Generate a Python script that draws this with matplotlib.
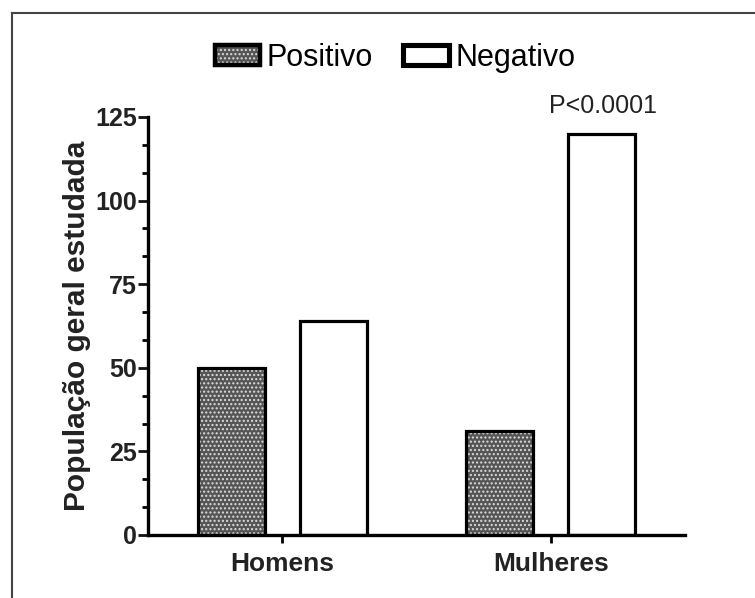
import matplotlib
matplotlib.use("Agg")
import matplotlib.pyplot as plt
import numpy as np
from matplotlib.patches import Patch
from matplotlib.lines import Line2D
from matplotlib.legend_handler import HandlerTuple
from matplotlib.ticker import MultipleLocator

categories = ["Homens", "Mulheres"]
series_names = ["Positivo", "Negativo"]
positivo = [50, 31]
negativo = [64, 120]
yticks = [0, 25, 50, 75, 100, 125]
annotation = "P<0.0001"

plt.rcParams['font.family'] = ['Liberation Sans', 'DejaVu Sans']

W, H = 755, 598
fig = plt.figure(figsize=(W / 100, H / 100), dpi=100)
ax = fig.add_axes([148 / W, 1 - 535 / H, (685 - 148) / W, (535 - 117) / H])

x = np.arange(len(categories))
width = 0.25
off = 0.19
lw = 2.3

hatch_face = '#555555'
hatch_col = '#dddddd'

# Positivo: hatched fill then black outline
ax.bar(x - off, positivo, width, facecolor=hatch_face, edgecolor=hatch_col,
       hatch='....', linewidth=0, zorder=2)
ax.bar(x - off, positivo, width, fill=False, edgecolor='black', linewidth=lw, zorder=3)
# Negativo: white
ax.bar(x + off, negativo, width, facecolor='white', edgecolor='black', linewidth=lw, zorder=3)

ax.annotate(annotation, xy=(x[1] + off, negativo[1]), xytext=(1, 11),
            textcoords='offset points', ha='center', va='bottom',
            fontsize=18, color='#222222')

ax.set_xlim(-0.5, 1.5)
ax.set_ylim(0, 125)
ax.set_yticks(yticks)
ax.yaxis.set_minor_locator(MultipleLocator(25 / 3))
ax.set_xticks(x)
ax.set_xticklabels(categories, fontsize=19, fontweight='bold', color='#222222')
ax.tick_params(axis='y', labelsize=18, width=2, length=7, pad=1, colors='#111111')
ax.tick_params(axis='y', which='minor', width=2, length=4)
ax.tick_params(axis='x', width=2, length=6, pad=6)
for lab in ax.get_yticklabels():
    lab.set_fontweight('bold')
    lab.set_color('#222222')

ax.set_ylabel("População geral estudada", fontsize=21.5, fontweight='bold',
              color='#222222', labelpad=3)

for s in ['top', 'right']:
    ax.spines[s].set_visible(False)
for s in ['left', 'bottom']:
    ax.spines[s].set_linewidth(2.4)
ax.spines['bottom'].set_zorder(4)

# legend
h_pos = (Patch(facecolor=hatch_face, edgecolor=hatch_col, hatch='....', linewidth=0),
         Patch(fill=False, edgecolor='black', linewidth=lw * 1.4))
h_neg = Patch(facecolor='white', edgecolor='black', linewidth=lw * 1.6)
fig.legend([h_pos, h_neg], series_names, loc='center', bbox_to_anchor=(395 / W, 1 - 58 / H),
           ncol=2, frameon=False, fontsize=22, handlelength=1.5, handleheight=0.65,
           handletextpad=0.2, columnspacing=1.0,
           handler_map={tuple: HandlerTuple(ndivide=1, pad=0)})

# figure frame (left and top edges)
fig.add_artist(Line2D([12 / W, 1], [1 - 13 / H, 1 - 13 / H], transform=fig.transFigure,
                      color='#444444', linewidth=1.5))
fig.add_artist(Line2D([12 / W, 12 / W], [0, 1 - 13 / H], transform=fig.transFigure,
                      color='#444444', linewidth=1.5))

fig.savefig("out.png", dpi=100)
